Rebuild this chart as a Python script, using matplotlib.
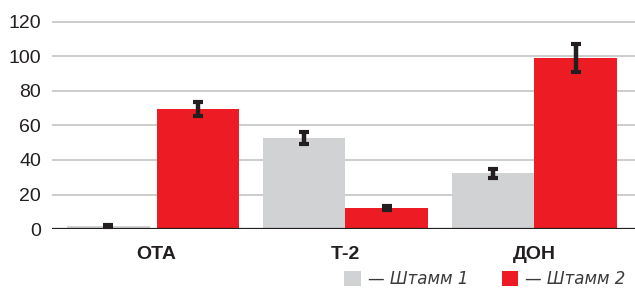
import matplotlib
matplotlib.use('Agg')
import matplotlib.pyplot as plt
from matplotlib.patches import Patch
import numpy as np

# toxin categories
categories = ['ОТА', 'Т-2', 'ДОН']
# strain 1 / strain 2 values and errors
strain1 = [1.6, 52.8, 32.3]
strain1_err = [0.5, 3.5, 2.6]
strain2 = [69.5, 12.2, 99.3]
strain2_err = [4.2, 1.2, 8.0]
yticks = [0, 20, 40, 60, 80, 100, 120]
labels = ['— Штамм 1', '— Штамм 2']

GRAY = '#d1d2d4'
RED = '#ed1c24'
DARK = '#231f20'

plt.rcParams['font.family'] = ['Liberation Sans', 'DejaVu Sans']

W, H = 635, 290
fig = plt.figure(figsize=(W / 100, H / 100), dpi=100)
# axes in pixel coords: left 52, right 635, zero line at y=229
ymax = 122
px_per_unit = 207 / 120
ax_h = ymax * px_per_unit
ax = fig.add_axes([52 / W, (H - 229) / H, (W - 52) / W, ax_h / H])

x = np.arange(len(categories))
bw = 0.439
# first grey bar sits a little apart from its pair in the original
gray_shift = np.array([-0.037, 0, 0])
err_kw = dict(ecolor=DARK, elinewidth=3.2, capsize=3.6, capthick=3)
ax.bar(x - bw / 2 + gray_shift, strain1, bw, color=GRAY, yerr=strain1_err, error_kw=err_kw, zorder=3)
ax.bar(x + bw / 2, strain2, bw, color=RED, yerr=strain2_err, error_kw=err_kw, zorder=3)

ax.set_xlim(-0.553, 2.532)
ax.set_ylim(0, ymax)
ax.set_yticks(yticks)
ax.set_yticklabels([str(v) for v in yticks], fontsize=14, color=DARK)
ax.set_xticks(x)
ax.set_xticklabels(categories, fontsize=14, fontweight='bold', color=DARK)
ax.tick_params(axis='both', length=0)
ax.tick_params(axis='y', pad=8)
ax.tick_params(axis='x', pad=12)

for v in yticks[1:]:
    ax.axhline(v, color='#c4c4c4', linewidth=1.2, zorder=1)
ax.axhline(0, color=DARK, linewidth=1.6, zorder=4)

for s in ax.spines.values():
    s.set_visible(False)

handles = [Patch(facecolor=GRAY, edgecolor='none'), Patch(facecolor=RED, edgecolor='none')]
leg = fig.legend(handles, labels, loc='lower right', bbox_to_anchor=(1.003, -0.035), ncol=2,
                 frameon=False, prop={'size': 12, 'style': 'italic', 'family': 'DejaVu Sans'},
                 handlelength=1.0, handleheight=1.0, handletextpad=0.4, columnspacing=2.0,
                 borderpad=0.2)
for t in leg.get_texts():
    t.set_color('#3a3a3a')

fig.savefig('out.png', dpi=100)
